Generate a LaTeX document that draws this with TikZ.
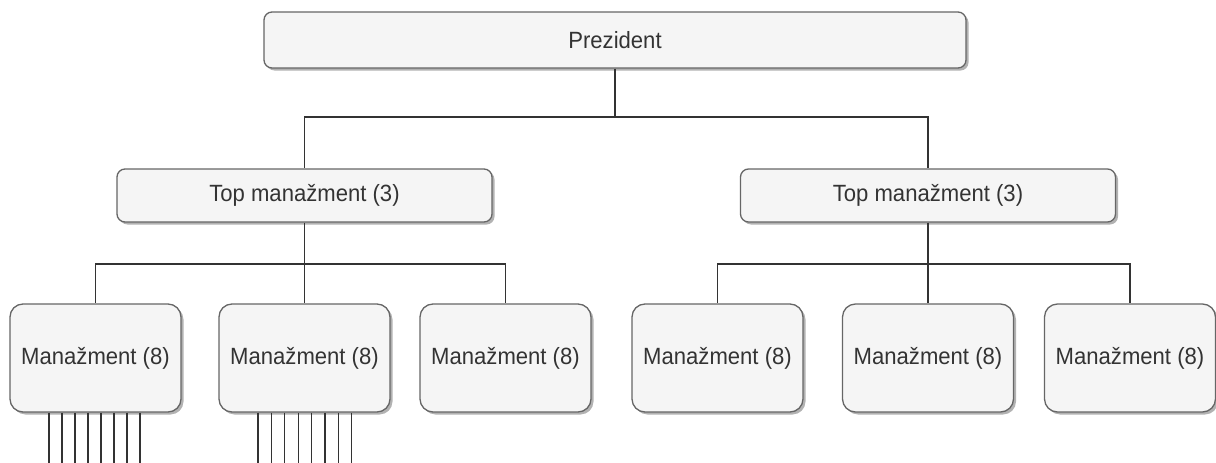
\documentclass[tikz,border=0pt]{standalone}
\usepackage{fontspec}
\setmainfont{Liberation Sans}[FakeStretch=0.94]
\usetikzlibrary{shadows}
\definecolor{boxfill}{HTML}{F5F5F5}
\definecolor{boxline}{HTML}{666666}
\definecolor{txt}{HTML}{333333}
\definecolor{wire}{HTML}{333333}
\begin{document}
\begin{tikzpicture}[x=1pt,y=-1pt,
  orgbox/.style={draw=boxline, line width=1.3pt, fill=boxfill, text=txt,
    inner sep=0pt, align=center, font=\fontsize{23.5}{27}\selectfont,
    drop shadow={shadow xshift=2.5pt, shadow yshift=-2.5pt, fill=black, opacity=0.3}},
  topbox/.style={orgbox, rounded corners=8pt, minimum width=375pt, minimum height=53pt},
  pbox/.style={orgbox, rounded corners=8pt, minimum width=702pt, minimum height=56pt},
  mbox/.style={orgbox, rounded corners=13pt, minimum width=171pt, minimum height=108pt},
  wire/.style={draw=wire, line width=1.3pt}]
\useasboundingbox (0,0) rectangle (1216,463);

% boxes
\node[pbox] (pres) at (615,40) {Prezident};
\node[topbox] (topL) at (304.5,195.5) {Top manažment (3)};
\node[topbox] (topR) at (928,195.5) {Top manažment (3)};
\node[mbox] (m1) at (95.5,358) {Manažment (8)};
\node[mbox] (m2) at (304.5,358) {Manažment (8)};
\node[mbox] (m3) at (505.5,358) {Manažment (8)};
\node[mbox] (m4) at (717.5,358) {Manažment (8)};
\node[mbox] (m5) at (928,358) {Manažment (8)};
\node[mbox] (m6) at (1130,358) {Manažment (8)};

% bus rows
\coordinate (bus0) at (615,117);
\coordinate (busL) at (304.5,264);
\coordinate (busR) at (928,264);

% president to top management
\draw[wire] (pres.south) -- (pres.south |- bus0) -| (topL.north);
\draw[wire] (pres.south |- bus0) -| (topR.north);

% top management to managers
\draw[wire] (topL.south) -- (busL);
\draw[wire] (busL) -| (m1.north);
\draw[wire] (busL) -| (m3.north);
\draw[wire] (busL) -- (m2.north);
\draw[wire] (topR.south) -- (busR);
\draw[wire] (busR) -| (m4.north);
\draw[wire] (busR) -| (m6.north);
\draw[wire] (busR) -- (m5.north);

% reports leaving the first two managers
\foreach \i in {0,...,7}{
  \coordinate (e1\i) at (49+13*\i,463);
  \draw[wire] (m1.south -| e1\i) -- (e1\i);
  \coordinate (e2\i) at (258+13.4*\i,463);
  \draw[wire] (m2.south -| e2\i) -- (e2\i);
}
\end{tikzpicture}
\end{document}
